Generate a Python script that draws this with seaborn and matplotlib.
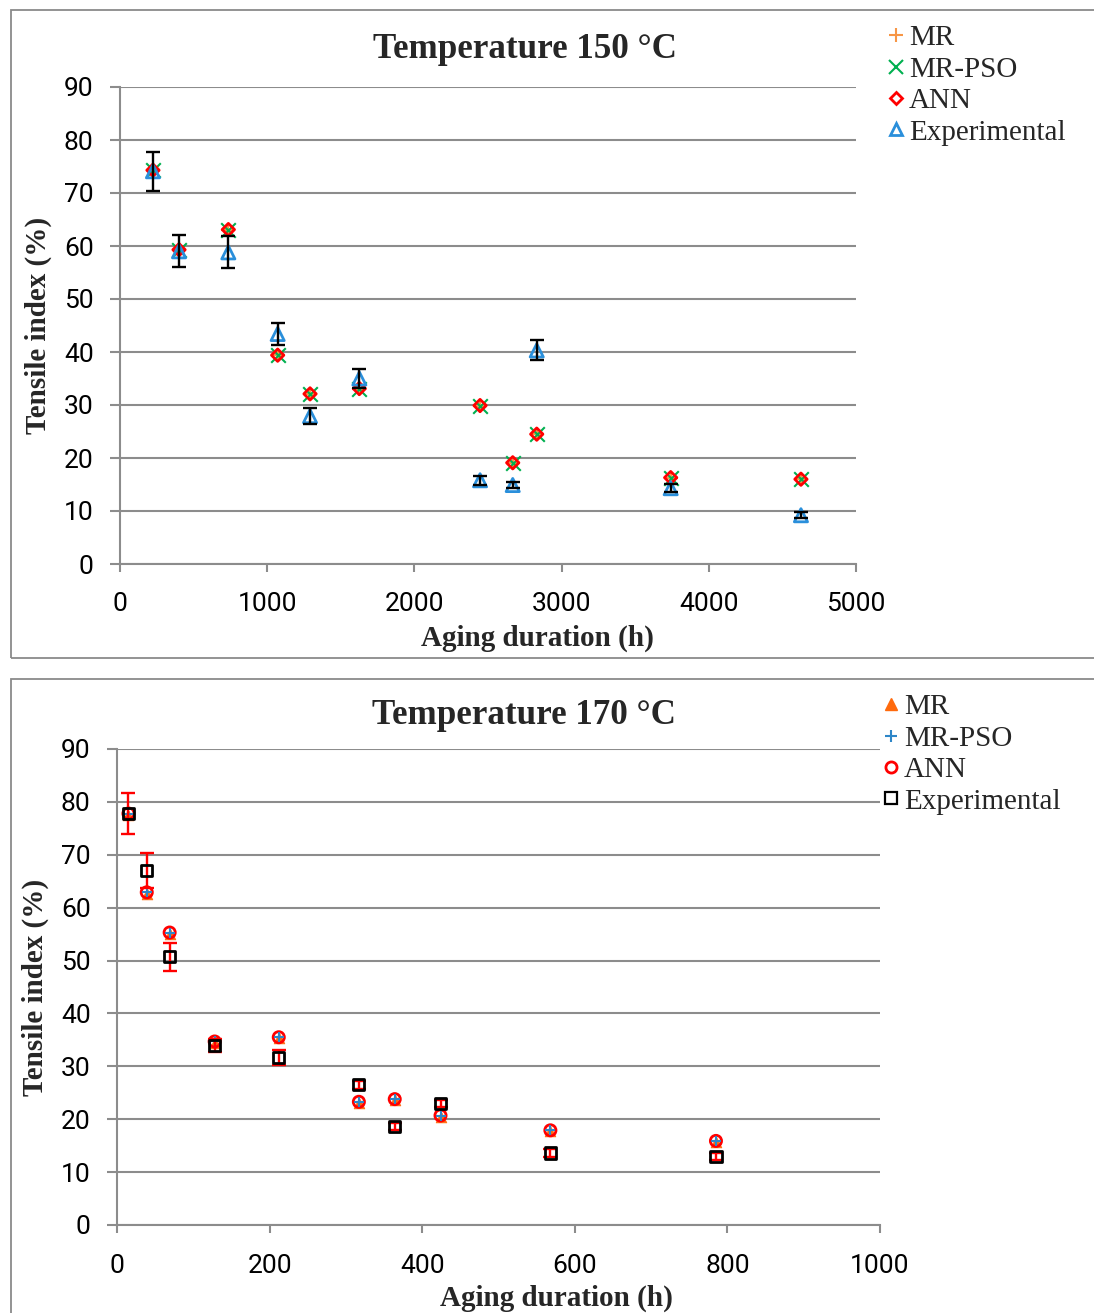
import numpy as np
import pandas as pd
import matplotlib
matplotlib.use("Agg")
import matplotlib.pyplot as plt
import seaborn as sns
from matplotlib.lines import Line2D
from matplotlib.patches import Rectangle

# ---------------- data: 150 °C ----------------
hours_150 = [224, 401, 736, 1071, 1291, 1626, 2446, 2668, 2831, 3741, 4626]
mr_150 = [74.3, 59.3, 63.1, 39.4, 32.1, 33.1, 29.9, 19.1, 24.5, 16.3, 16.0]
mrpso_150 = [74.3, 59.3, 63.1, 39.4, 32.1, 33.1, 29.9, 19.1, 24.5, 16.3, 16.0]
ann_150 = [74.3, 59.3, 63.1, 39.4, 32.1, 33.1, 29.9, 19.1, 24.5, 16.3, 16.0]
exp_150 = [74.1, 59.0, 58.8, 43.4, 27.9, 35.0, 15.8, 14.9, 40.3, 14.3, 9.2]
err_150 = [3.7, 3.0, 3.0, 2.1, 1.5, 1.8, 0.8, 0.6, 1.9, 0.8, 0.6]

# ---------------- data: 170 °C ----------------
hours_170 = [15, 39, 69, 128, 212, 317, 364, 424, 568, 785]
mr_170 = [77.6, 62.6, 55.1, 34.5, 35.3, 23.1, 23.6, 20.5, 17.7, 15.7]
mrpso_170 = [77.8, 62.9, 55.3, 34.7, 35.5, 23.3, 23.8, 20.7, 17.9, 15.9]
ann_170 = [77.8, 62.9, 55.3, 34.7, 35.5, 23.3, 23.8, 20.7, 17.9, 15.9]
exp_170 = [77.8, 67.0, 50.7, 33.9, 31.6, 26.5, 18.6, 23.0, 13.6, 12.9]
err_170 = [3.9, 3.3, 2.6, 1.2, 1.4, 0.8, 0.6, 0.6, 0.7, 0.7]

labels = ["MR", "MR-PSO", "ANN", "Experimental"]
yticks = [0, 10, 20, 30, 40, 50, 60, 70, 80, 90]
xticks_150 = [0, 1000, 2000, 3000, 4000, 5000]
xticks_170 = [0, 200, 400, 600, 800, 1000]

sns.set_theme(style="white")
plt.rcParams["font.family"] = ["Liberation Serif", "DejaVu Serif"]

W, H = 1094, 1313
fig = plt.figure(figsize=(W / 100, H / 100), dpi=100)

GRID = "#8c8c8c"
SERIF = ["Liberation Serif", "DejaVu Serif"]
SANS = ["Roboto", "DejaVu Sans"]


def fx(px):
    return px / W


def fy(py):
    return 1 - py / H


# panel frames
fig.add_artist(Rectangle((fx(10.5), fy(658)), fx(1200), (658 - 10.5) / H,
                         transform=fig.transFigure, fill=False,
                         edgecolor="#8a8a8a", lw=1.3, clip_on=False))
fig.add_artist(Rectangle((fx(10.5), fy(1400)), fx(1200), (1400 - 679) / H,
                         transform=fig.transFigure, fill=False,
                         edgecolor="#8a8a8a", lw=1.3, clip_on=False))

ax1 = fig.add_axes([fx(120), fy(564), fx(856) - fx(120), fy(87) - fy(564)])
ax2 = fig.add_axes([fx(117), fy(1225), fx(880) - fx(117), fy(749) - fy(1225)])


def style_axis(ax, xlim, xticks, xpad):
    ax.set_xlim(*xlim)
    ax.set_ylim(0, 90)
    ax.set_xticks(xticks)
    ax.set_yticks(yticks)
    ax.set_facecolor("none")
    for s in ["top", "right"]:
        ax.spines[s].set_visible(False)
    for s in ["left", "bottom"]:
        ax.spines[s].set_color(GRID)
        ax.spines[s].set_linewidth(1.5)
    ax.yaxis.grid(True, color=GRID, lw=1.5)
    ax.xaxis.grid(False)
    ax.set_axisbelow(True)
    ax.tick_params(axis="y", direction="out", length=7, width=1.5, color=GRID,
                   pad=12, labelsize=19, left=True)
    ax.tick_params(axis="x", direction="out", length=6, width=1.5, color=GRID,
                   pad=xpad, labelsize=19, bottom=True)
    for lab in ax.get_xticklabels() + ax.get_yticklabels():
        lab.set_family(SANS)
        lab.set_color("black")
    ax.set_xlabel("")
    ax.set_ylabel("")


# ---------------- top chart ----------------
C_MR1, C_PSO1, C_ANN1, C_EXP1 = "#F79646", "#00B050", "#FF0000", "#2A8FDB"
sns.scatterplot(x=hours_150, y=mr_150, marker="+", color=C_MR1, s=90,
                linewidth=1.5, ax=ax1, zorder=3)
sns.scatterplot(x=hours_150, y=mrpso_150, marker="x", color=C_PSO1, s=110,
                linewidth=1.5, ax=ax1, zorder=4)
sns.scatterplot(x=hours_150, y=ann_150, marker="D", facecolor="none",
                edgecolor=C_ANN1, s=40, linewidth=2.0, ax=ax1, zorder=5)
sns.scatterplot(x=hours_150, y=exp_150, marker="^", facecolor="none",
                edgecolor=C_EXP1, s=90, linewidth=2.0, ax=ax1, zorder=6)
ax1.errorbar(hours_150, exp_150, yerr=err_150, fmt="none", ecolor="black",
             elinewidth=1.7, capsize=5, capthick=1.7, zorder=7)
style_axis(ax1, (0, 5000), xticks_150, 14)

# ---------------- bottom chart ----------------
C_MR2, C_PSO2, C_ANN2, C_EXP2 = "#FF6A0D", "#2E86C8", "#FF0000", "#000000"
sns.scatterplot(x=hours_170, y=mr_170, marker="^", color=C_MR2, edgecolor=C_MR2,
                s=60, linewidth=0.5, ax=ax2, zorder=3)
sns.scatterplot(x=hours_170, y=mrpso_170, marker="+", color=C_PSO2, s=55,
                linewidth=1.5, ax=ax2, zorder=5)
sns.scatterplot(x=hours_170, y=ann_170, marker="o", facecolor="none",
                edgecolor=C_ANN2, s=65, linewidth=2.0, ax=ax2, zorder=4)
ax2.errorbar(hours_170, exp_170, yerr=err_170, fmt="none", ecolor="#FF0000",
             elinewidth=1.7, capsize=5, capthick=1.7, zorder=6)
sns.scatterplot(x=hours_170, y=exp_170, marker="s", facecolor="none",
                edgecolor=C_EXP2, s=65, linewidth=2.0, ax=ax2, zorder=7)
style_axis(ax2, (0, 1000), xticks_170, 15)

# ---------------- texts ----------------
fig.text(fx(525), fy(49), "Temperature 150 °C", ha="center", va="center",
         fontsize=25.2, fontweight="bold", family=SERIF)
fig.text(fx(524), fy(715), "Temperature 170 °C", ha="center", va="center",
         fontsize=25.2, fontweight="bold", family=SERIF)
fig.text(fx(38), fy(325), "Tensile index (%)", ha="center", va="center",
         rotation=90, fontsize=21, fontweight="bold", family=SERIF)
fig.text(fx(35), fy(987), "Tensile index (%)", ha="center", va="center",
         rotation=90, fontsize=21, fontweight="bold", family=SERIF)
fig.text(fx(537), fy(638), "Aging duration (h)", ha="center", va="center",
         fontsize=21, fontweight="bold", family=SERIF)
fig.text(fx(556), fy(1298), "Aging duration (h)", ha="center", va="center",
         fontsize=21, fontweight="bold", family=SERIF)

# ---------------- legends ----------------
h1 = [
    Line2D([], [], ls="none", marker="+", color=C_MR1, markersize=10, mew=1.5),
    Line2D([], [], ls="none", marker="x", color=C_PSO1, markersize=10, mew=1.5),
    Line2D([], [], ls="none", marker="D", mfc="none", mec=C_ANN1, markersize=6, mew=2),
    Line2D([], [], ls="none", marker="^", mfc="none", mec=C_EXP1, markersize=8, mew=2),
]
h2 = [
    Line2D([], [], ls="none", marker="^", color=C_MR2, markersize=9),
    Line2D([], [], ls="none", marker="+", color=C_PSO2, markersize=9, mew=1.5),
    Line2D([], [], ls="none", marker="o", mfc="none", mec=C_ANN2, markersize=8, mew=2),
    Line2D([], [], ls="none", marker="s", mfc="none", mec=C_EXP2, markersize=8, mew=1.6),
]
leg_kw = dict(frameon=False, prop={"family": SERIF, "size": 21}, borderpad=0,
              borderaxespad=0, handlelength=0.7, handletextpad=0.08,
              labelspacing=0.17, loc="upper left")
fig.legend(h1, labels, bbox_to_anchor=(fx(886), fy(25)), **leg_kw)
fig.legend(h2, labels, bbox_to_anchor=(fx(881), fy(694)), **leg_kw)

fig.savefig("out.png", dpi=100)
